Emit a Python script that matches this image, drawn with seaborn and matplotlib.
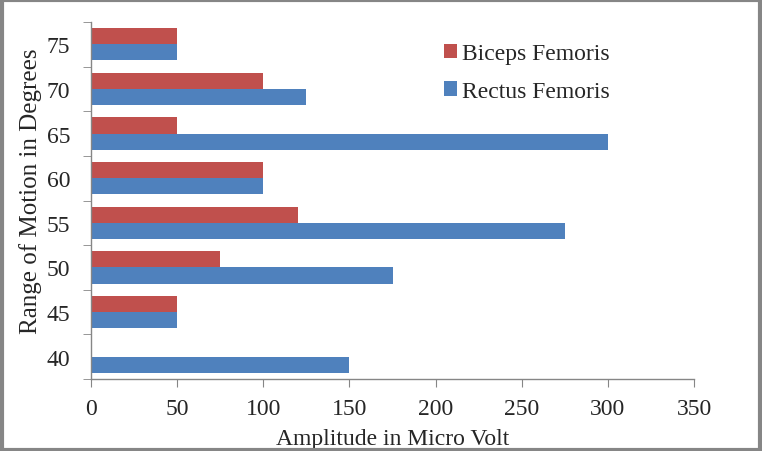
import matplotlib
matplotlib.use('Agg')
import matplotlib.pyplot as plt
from matplotlib.patches import Rectangle
from matplotlib.ticker import FixedLocator
import seaborn as sns
import pandas as pd

# data
degrees = [40, 45, 50, 55, 60, 65, 70, 75]
rectus = [150, 50, 175, 275, 100, 300, 125, 50]
biceps = [0, 50, 75, 120, 100, 50, 100, 50]
muscles = ['Biceps Femoris', 'Rectus Femoris']
x_ticks = [0, 50, 100, 150, 200, 250, 300, 350]

sns.set_style('white')
plt.rcParams['font.family'] = ['Liberation Serif', 'DejaVu Serif']

df = pd.DataFrame({
    'deg': [str(d) for d in degrees] * 2,
    'amp': biceps + rectus,
    'muscle': ['Biceps Femoris'] * len(degrees) + ['Rectus Femoris'] * len(degrees),
})
order = [str(d) for d in degrees[::-1]]

fig = plt.figure(figsize=(7.62, 4.52), dpi=100)
ax = fig.add_axes([91 / 762, 1 - 380 / 452, (694 - 91) / 762, (380 - 23) / 452])

sns.barplot(data=df, x='amp', y='deg', hue='muscle', order=order, hue_order=muscles,
            palette=['#C0504D', '#4F81BD'], orient='h', width=0.72, saturation=1,
            linewidth=0, gap=0, ax=ax)

ax.set_xlim(0, 350)
ax.set_ylim(7.5, -0.5)
ax.set_xticks(x_ticks)
ax.tick_params(axis='x', labelsize=17, length=6, color='#868686', direction='out',
               bottom=True, pad=8)
ax.tick_params(axis='y', which='major', labelsize=17, length=0, pad=15)
ax.yaxis.set_minor_locator(FixedLocator([i - 0.5 for i in range(len(degrees) + 1)]))
ax.tick_params(axis='y', which='minor', length=6, color='#868686', direction='out', left=True)

for s in ['top', 'right']:
    ax.spines[s].set_visible(False)
for s in ['left', 'bottom']:
    ax.spines[s].set_color('#868686')
    ax.spines[s].set_linewidth(1)

ax.set_xlabel('Amplitude in Micro Volt', fontsize=17, labelpad=6)
ax.set_ylabel('Range of Motion in Degrees', fontsize=18)
ax.yaxis.set_label_coords(-0.101, 0.529)
ax.yaxis.label.set_va('center')

ax.legend(loc='upper left', bbox_to_anchor=(0.57, 0.967), frameon=False, fontsize=17,
          handlelength=0.55, handleheight=0.55, handletextpad=0.2, labelspacing=0.7,
          borderaxespad=0)

fig.add_artist(Rectangle((0.002, 0.003), 0.996, 0.994, transform=fig.transFigure,
                         fill=False, edgecolor='#868686', linewidth=3))

fig.savefig('out.png', dpi=100)
